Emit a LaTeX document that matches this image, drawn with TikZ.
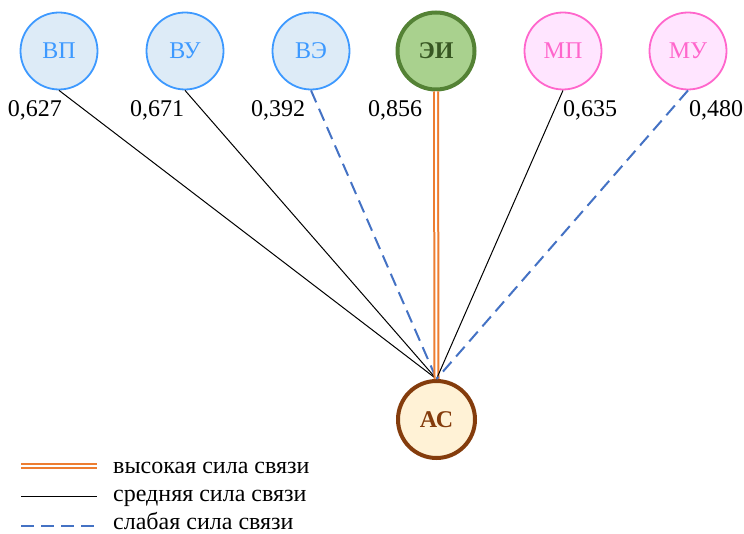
\documentclass[tikz,border=0pt]{standalone}
\usepackage{fontspec}
\setmainfont{Liberation Serif}
\newfontfamily\timesfont{Liberation Serif}
\begin{document}
\begin{tikzpicture}[x=1pt,y=-1pt,
  every node/.style={font=\timesfont\fontsize{24}{28}\selectfont},
  factor/.style={circle,minimum size=77pt,inner sep=0pt,line width=1.8pt},
  vgroup/.style={factor,draw={rgb,255:red,61;green,153;blue,255},fill={rgb,255:red,221;green,235;blue,247},text={rgb,255:red,61;green,153;blue,255}},
  mgroup/.style={factor,draw={rgb,255:red,255;green,102;blue,204},fill={rgb,255:red,255;green,229;blue,255},text={rgb,255:red,255;green,102;blue,204}},
  keynode/.style={factor,line width=4pt,font=\timesfont\fontsize{24}{28}\selectfont\bfseries},
  value/.style={inner sep=0pt,anchor=base},
  strong/.style={draw={rgb,255:red,237;green,125;blue,49},line width=2pt,double=white,double distance=2pt},
  medium/.style={draw=black,line width=1pt},
  weak/.style={draw={rgb,255:red,68;green,114;blue,196},line width=2pt,dash pattern=on 13pt off 7pt},
  legendtext/.style={anchor=base west,inner sep=0pt}]
\useasboundingbox (0,0) rectangle (744,534);

% factor nodes
\node[vgroup] (vp) at (59,51) {ВП};
\node[vgroup] (vu) at (185,51) {ВУ};
\node[vgroup] (ve) at (311,51) {ВЭ};
\node[keynode,draw={rgb,255:red,84;green,130;blue,53},fill={rgb,255:red,169;green,209;blue,142},text={rgb,255:red,56;green,87;blue,35}] (ei) at (436,51) {ЭИ};
\node[mgroup] (mp) at (563,51) {МП};
\node[mgroup] (mu) at (688,51) {МУ};
\node[keynode,draw={rgb,255:red,132;green,60;blue,12},fill={rgb,255:red,255;green,242;blue,214},text={rgb,255:red,132;green,60;blue,12}] (ac) at (436.5,419.5) {АС};

% connections
\draw[medium] (vp.south) -- (ac.north);
\draw[medium] (vu.south) -- (ac.north);
\draw[weak] (ve.south) -- (ac.north);
\draw[strong] (ei.south) -- (ac.north);
\draw[medium] (mp.south) -- (ac.north);
\draw[weak] (mu.south) -- (ac.north);

% correlation values
\node[value] (l1) at (35,117) {0,627};
\node[value] (l2) at (157,117) {0,671};
\node[value] (l3) at (278,117) {0,392};
\node[value] (l4) at (395,117) {0,856};
\node[value] (l5) at (590,117) {0,635};
\node[value] (l6) at (716,117) {0,480};

% legend
\coordinate (s1) at (21,466);
\coordinate (e1) at (97,466);
\coordinate (s2) at (21,496);
\coordinate (e2) at (97,496);
\coordinate (s3) at (21,526);
\coordinate (e3) at (97,526);
\draw[strong] (s1) -- (e1);
\draw[medium] (s2) -- (e2);
\draw[weak] (s3) -- (e3);
\node[legendtext] (t1) at (113,473) {высокая сила связи};
\node[legendtext] (t2) at (113,501) {средняя сила связи};
\node[legendtext] (t3) at (113,529) {слабая сила связи};
\end{tikzpicture}
\end{document}
